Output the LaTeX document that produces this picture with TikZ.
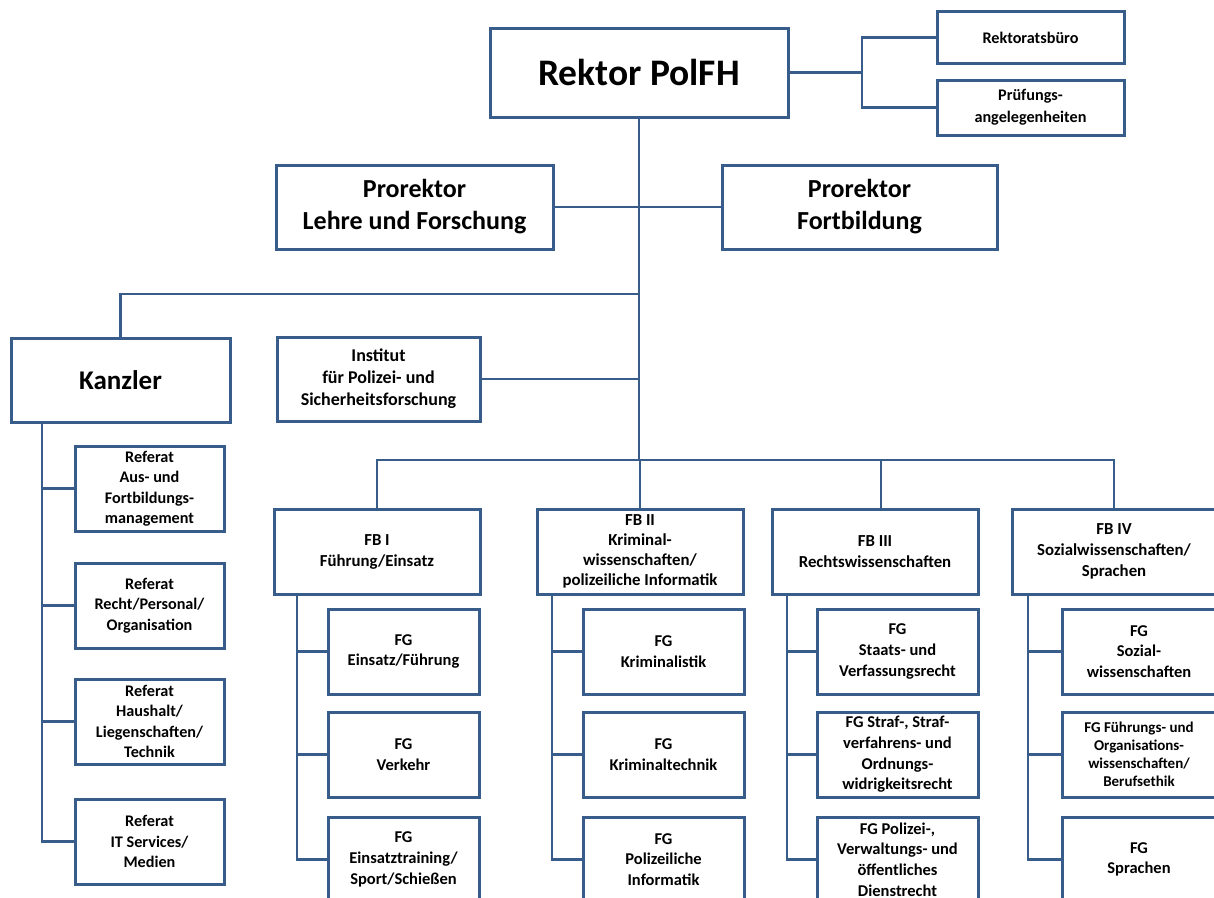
\documentclass[tikz,border=0pt]{standalone}
\usepackage{fontspec}
\setmainfont{Carlito}
\definecolor{bl}{RGB}{56,93,138}
\begin{document}
\begin{tikzpicture}[x=1pt,y=-1pt,
  box/.style={draw=bl,line width=3pt,fill=white,inner sep=1pt,align=center},
  conn/.style={draw=bl,line width=2.4pt},
  fbig/.style={font=\bfseries\fontsize{37.5}{40}\selectfont},
  fpro/.style={font=\bfseries\fontsize{26}{32}\selectfont},
  fkan/.style={font=\bfseries\fontsize{27}{30}\selectfont},
  fmid/.style={font=\bfseries\fontsize{18}{22}\selectfont},
  ffb/.style={font=\bfseries\fontsize{16.8}{21}\selectfont},
  ffg/.style={font=\bfseries\fontsize{16.5}{20.7}\selectfont},
  fref/.style={font=\bfseries\fontsize{16.2}{20.5}\selectfont},
  fsm/.style={font=\bfseries\fontsize{16.2}{22}\selectfont},
  ftiny/.style={font=\bfseries\fontsize{15}{18}\selectfont}]
\useasboundingbox (0,0) rectangle (1214,897);
\clip (0,0) rectangle (1214,897);

% top
\node[box,fbig,minimum width=298pt,minimum height=89pt] (rektor) at (639,72.5) {Rektor PolFH};
\node[box,fsm,minimum width=187pt,minimum height=52pt] (buero) at (1030.5,37.5) {Rektoratsbüro};
\node[box,fsm,minimum width=187pt,minimum height=55pt] (pruef) at (1030.5,107.5) {Prüfungs-\\angelegenheiten};
\node[box,fpro,minimum width=277pt,minimum height=84pt] (proLF) at (414.5,207) {Prorektor\\Lehre und Forschung};
\node[box,fpro,minimum width=275pt,minimum height=84pt] (proFB) at (859.5,207) {Prorektor\\Fortbildung};
\node[box,fkan,minimum width=219pt,minimum height=84pt] (kanzler) at (120.5,380) {Kanzler};
\node[box,fmid,minimum width=203pt,minimum height=84pt] (inst) at (378.5,379) {Institut\\für Polizei- und\\Sicherheitsforschung};

% Referate
\foreach \n/\y/\t in {ref1/488.5/{Referat\\Aus- und\\Fortbildungs-\\management},
                      ref2/605.5/{Referat\\Recht/Personal/\\Organisation},
                      ref3/721.5/{Referat\\Haushalt/\\Liegenschaften/\\Technik},
                      ref4/841.5/{Referat\\IT Services/\\Medien}}
  \node[box,fref,minimum width=149pt,minimum height=85pt] (\n) at (149.5,\y) {\t};

% FB
\node[box,ffb,minimum width=206pt,minimum height=85pt] (fb1) at (377,551.5) {FB I\\Führung/Einsatz};
\node[box,ffb,font=\bfseries\fontsize{16.8}{20}\selectfont,minimum width=206pt,minimum height=85pt] (fb2) at (640,551.5) {FB II\\Kriminal-\\wissenschaften/\\polizeiliche Informatik};
\node[box,ffb,minimum width=206pt,minimum height=85pt] (fb3) at (875,551.5) {FB III\\Rechtswissenschaften};
\node[box,ffb,minimum width=204pt,minimum height=85pt] (fb4) at (1114,551.5) {FB IV\\Sozialwissenschaften/\\Sprachen};

% FG
\foreach \n/\x/\w/\y/\t/\f in {
  g11/403.5/151/651.5/{FG\\Einsatz/Führung}/ffg,
  g12/403.5/151/754.5/{FG\\Verkehr}/ffg,
  g13/403.5/151/859.5/{FG\\Einsatztraining/\\Sport/Schießen}/ffg,
  g21/663.5/161/651.5/{FG\\Kriminalistik}/ffg,
  g22/663.5/161/754.5/{FG\\Kriminaltechnik}/ffg,
  g23/663.5/161/859.5/{FG\\Polizeiliche\\Informatik}/ffg,
  g31/897.5/161/651.5/{FG\\Staats- und\\Verfassungsrecht}/ffg,
  g32/897.5/161/754.5/{FG Straf-, Straf-\\verfahrens- und\\Ordnungs-\\widrigkeitsrecht}/ffg,
  g33/897.5/161/859.5/{FG Polizei-,\\Verwaltungs- und\\öffentliches\\Dienstrecht}/ffg,
  g41/1139/154/651.5/{FG\\Sozial-\\wissenschaften}/ffg,
  g42/1139/154/754.5/{FG Führungs- und\\Organisations-\\wissenschaften/\\Berufsethik}/ftiny,
  g43/1139/154/859.5/{FG\\Sprachen}/ffg}
  \node[box,\f,minimum width=\w pt,minimum height=85pt] (\n) at (\x,\y) {\t};

% connectors
\coordinate (rj) at (862,72.5);
\coordinate (bus) at (639,460);
\coordinate (kj) at (639,294);
\coordinate (kv) at (42,422);
\draw[conn] (rektor.east) -- (rj);
\draw[conn] (buero.west) -| (rj) |- (pruef.west);
\draw[conn] (rektor.south) -- (bus);
\draw[conn] (proLF.east) -- (proFB.west);
\draw[conn] (kanzler.north) |- (kj);
\draw[conn] (inst.east) -- (inst.east -| bus);
\draw[conn] (fb1.north) |- (bus) -| (fb4.north);
\draw[conn] (fb2.north) -- (fb2.north |- bus);
\draw[conn] ([xshift=6pt]fb3.north) -- ([xshift=6pt]fb3.north |- bus);
\draw[conn] (kv) |- (ref4.west);
\foreach \r in {ref1,ref2,ref3} \draw[conn] (\r.west) -- (\r.west -| kv);
\foreach \f/\x in {1/297,2/552,3/787,4/1028} {
  \coordinate (v\f) at (\x,594);
  \draw[conn] (v\f) |- (g\f3.west);
  \draw[conn] (g\f1.west) -- (g\f1.west -| v\f);
  \draw[conn] (g\f2.west) -- (g\f2.west -| v\f);
}
\end{tikzpicture}
\end{document}
